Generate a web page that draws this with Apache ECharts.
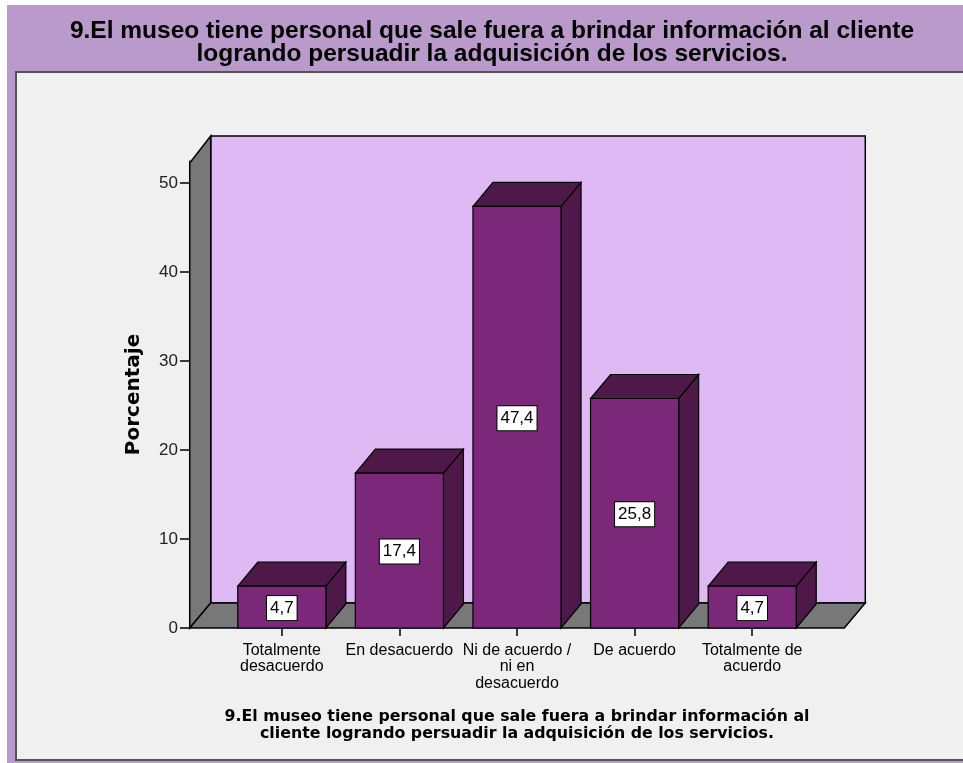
<!DOCTYPE html>
<html><head><meta charset="utf-8">
<script src="https://cdn.jsdelivr.net/npm/echarts@6/dist/echarts.min.js"></script>
<style>html,body{margin:0;padding:0;background:#fff}#c{width:963px;height:763px}</style>
</head><body><div id="c"></div>
<script>
const categories = ['Totalmente\ndesacuerdo', 'En desacuerdo', 'Ni de acuerdo /\nni en\ndesacuerdo', 'De acuerdo', 'Totalmente de\nacuerdo'];
const percentages = [4.7, 17.4, 47.4, 25.8, 4.7];
const valueLabels = ['4,7', '17,4', '47,4', '25,8', '4,7'];
const yTicks = [0, 10, 20, 30, 40, 50];
const titleText = '9.El museo tiene personal que sale fuera a brindar información al cliente\nlogrando persuadir la adquisición de los servicios.';
const xAxisTitle = '9.El museo tiene personal que sale fuera a brindar información al\ncliente logrando persuadir la adquisición de los servicios.';
const yAxisTitle = 'Porcentaje';

const REG = '"Liberation Sans", Arial, sans-serif';
const BOLD = '"DejaVu Sans", sans-serif';
const ARB = '"Liberation Sans", Arial, sans-serif';
const WALL = '#787878', BACK = '#DFB9F3', FRONT = '#7B287A', DARK = '#4E1949';

const chart = echarts.init(document.getElementById('c'), null, {renderer: 'canvas'});

function wallsRender(params, api) {
  const cs = params.coordSys;
  const band = cs.width / categories.length;
  const ext = band * 0.283;
  const fl = cs.x - ext, fr = cs.x + cs.width + ext;
  const top = cs.y, y0 = cs.y + cs.height;
  const dx = 21, dy = -25;
  return {
    type: 'group',
    children: [
      {type: 'rect', shape: {x: fl + dx, y: top + dy, width: fr - fl, height: cs.height},
       style: {fill: BACK, stroke: '#000', lineWidth: 1.5}},
      {type: 'polygon', shape: {points: [[fl, y0], [fl, top + 2], [fl + dx, top + dy], [fl + dx, y0 + dy]]},
       style: {fill: WALL, stroke: '#000', lineWidth: 1.5}},
      {type: 'polygon', shape: {points: [[fl, y0], [fl + dx, y0 + dy], [fr + dx, y0 + dy], [fr, y0]]},
       style: {fill: WALL, stroke: '#000', lineWidth: 1.5}}
    ]
  };
}

function barRender(params, api) {
  const i = api.value(0), v = api.value(1);
  const base = api.coord([i, 0]);
  const tp = api.coord([i, v]);
  const bw = api.size([1, 0])[0] * 0.749;
  const x0 = base[0] - bw / 2;
  const dx = 20, dy = -24;
  const yt = tp[1], yb = base[1];
  return {
    type: 'group',
    children: [
      {type: 'polygon', shape: {points: [[x0 + bw, yt], [x0 + bw + dx, yt + dy], [x0 + bw + dx, yb + dy], [x0 + bw, yb]]},
       style: {fill: DARK, stroke: '#000', lineWidth: 1.2}},
      {type: 'polygon', shape: {points: [[x0, yt], [x0 + dx, yt + dy], [x0 + bw + dx, yt + dy], [x0 + bw, yt]]},
       style: {fill: DARK, stroke: '#000', lineWidth: 1.2}},
      {type: 'rect', shape: {x: x0, y: yt, width: bw, height: yb - yt},
       style: {fill: FRONT, stroke: '#000', lineWidth: 1.2}},
      {type: 'text', x: base[0], y: (yt + yb) / 2 + 1,
       style: {text: valueLabels[params.dataIndex], align: 'center', verticalAlign: 'middle',
         fill: '#000', font: '17px ' + REG, backgroundColor: '#fff', borderColor: '#000', borderWidth: 1,
         padding: [4, 3, 3, 3]}}
    ]
  };
}

const option = {
  animation: false,
  backgroundColor: '#fff',
  graphic: [
    {type: 'rect', z: -10, shape: {x: 7, y: 5, width: 956, height: 758}, style: {fill: '#B99ACB'}},
    {type: 'rect', z: -9, shape: {x: 16, y: 72, width: 960, height: 688}, style: {fill: '#F0F0F0', stroke: '#555', lineWidth: 2}}
  ],
  title: {
    text: titleText, left: 487, top: 15, textAlign: 'center',
    textStyle: {fontFamily: ARB, fontWeight: 'bold', fontSize: 24.5, lineHeight: 22.5, color: '#000'}
  },
  grid: {left: 223, right: 152, top: 161, bottom: 135, containLabel: false},
  xAxis: {
    type: 'category', data: categories,
    axisLine: {show: false},
    axisTick: {show: true, alignWithLabel: true, length: 8, lineStyle: {color: '#000', width: 1.5}},
    axisLabel: {fontFamily: REG, fontSize: 16, lineHeight: 16.5, color: '#000', margin: 14, interval: 0},
    name: xAxisTitle, nameLocation: 'middle', nameGap: 80,
    nameTextStyle: {fontFamily: BOLD, fontWeight: 'bold', fontSize: 15.8, lineHeight: 17, color: '#000', verticalAlign: 'top'}
  },
  yAxis: {
    type: 'value', min: 0, max: 52.5, interval: 10, offset: 33,
    splitLine: {show: false},
    axisLine: {show: true, lineStyle: {color: '#000', width: 1.5}},
    axisTick: {show: true, length: 10, customValues: yTicks, lineStyle: {color: '#000', width: 1.5}},
    axisLabel: {fontFamily: REG, fontSize: 17, color: '#222', margin: 12, customValues: yTicks},
    name: yAxisTitle, nameLocation: 'middle', nameGap: 46,
    nameTextStyle: {fontFamily: BOLD, fontWeight: 'bold', fontSize: 20, color: '#000'}
  },
  series: [
    {type: 'custom', z: 1, silent: true, renderItem: wallsRender, data: [[0, 0]], clip: false},
    {type: 'custom', z: 3, renderItem: barRender, data: percentages.map((v, i) => [i, v]), clip: false}
  ]
};
chart.setOption(option);
</script></body></html>
